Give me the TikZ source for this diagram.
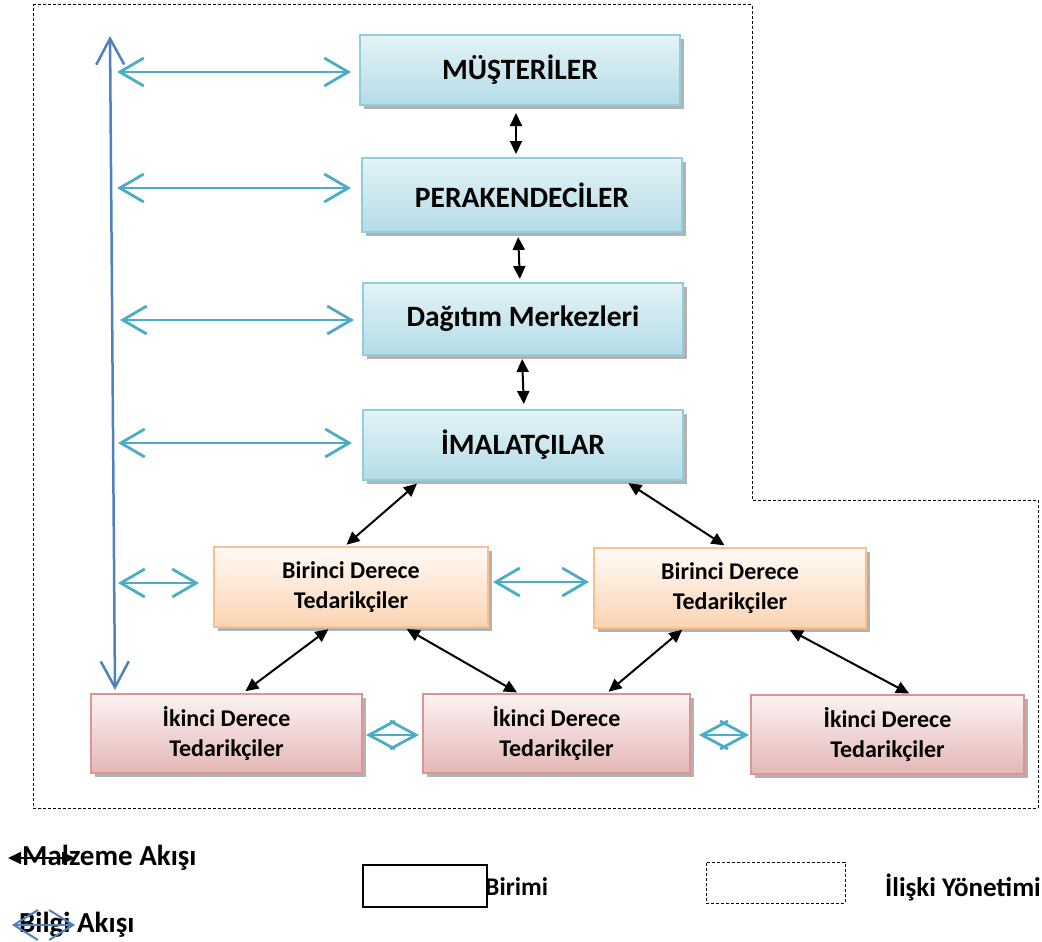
\documentclass[tikz,border=0pt]{standalone}
\usepackage{fontspec}
\setmainfont{Carlito}
\usetikzlibrary{arrows.meta,shadows,calc}
\definecolor{cyanA}{HTML}{4BACC6}
\definecolor{blueA}{HTML}{4F81BD}
\definecolor{bTop}{HTML}{E4F3F7}
\definecolor{bBot}{HTML}{B4DCE7}
\definecolor{bBrd}{HTML}{92CDDC}
\definecolor{oTop}{HTML}{FFFBF7}
\definecolor{oBot}{HTML}{FBD3B2}
\definecolor{oBrd}{HTML}{FAC08F}
\definecolor{pTop}{HTML}{FCF3F3}
\definecolor{pBot}{HTML}{E4B7B6}
\definecolor{pBrd}{HTML}{D99694}
\tikzset{
  box/.style={line width=2pt, align=center, font=\bfseries, text=black,
    general shadow={shadow xshift=4pt, shadow yshift=-4pt, fill=gray!60}},
  bluebox/.style={box, draw=bBrd, top color=bTop, bottom color=bBot, font=\fontsize{29.5}{33}\selectfont\bfseries},
  orbox/.style={box, draw=oBrd, top color=oTop, bottom color=oBot, font=\fontsize{24}{30}\selectfont\bfseries},
  pkbox/.style={box, draw=pBrd, top color=pTop, bottom color=pBot, font=\fontsize{24}{30}\selectfont\bfseries},
  blk/.style={line width=2pt, {Triangle[length=13pt,width=12pt]}-{Triangle[length=13pt,width=12pt]}},
  info/.style={draw=cyanA, line width=2.8pt, {Straight Barb[length=24pt,width=28pt]}-{Straight Barb[length=24pt,width=28pt]}},
  dia/.style={draw=cyanA, line width=2.8pt, {Straight Barb[length=26pt,width=28pt]}-{Straight Barb[length=26pt,width=28pt]}},
  leg/.style={font=\fontsize{29}{32}\selectfont\bfseries, inner sep=0pt},
}
\begin{document}
\begin{tikzpicture}[x=1pt,y=-1pt]
\useasboundingbox (0,0) rectangle (1042,942);
% relationship management outline
\draw[line width=1pt, dash pattern=on 3pt off 2pt] (33,5) -- (752,5) -- (752,500) -- (1038,500) -- (1038,808) -- (33,808) -- cycle;

% boxes
\node[bluebox, minimum width=320pt, minimum height=70pt] (m) at (520,70) {MÜŞTERİLER};
\node[bluebox, minimum width=320pt, minimum height=74pt] (p) at (522,195) {PERAKENDECİLER};
\node[bluebox, minimum width=320pt, minimum height=72pt] (d) at (523,319) {Dağıtım Merkezleri};
\node[bluebox, minimum width=320pt, minimum height=70pt] (i) at (523,445) {İMALATÇILAR};
\node[orbox, minimum width=274pt, minimum height=80pt] (b1) at (351,587) {Birinci Derece\\Tedarikçiler};
\node[orbox, minimum width=272pt, minimum height=80pt] (b2) at (730,588) {Birinci Derece\\Tedarikçiler};
\node[pkbox, minimum width=271pt, minimum height=79pt] (k1) at (226.5,733.5) {İkinci Derece\\Tedarikçiler};
\node[pkbox, minimum width=267pt, minimum height=79pt] (k2) at (556.5,733.5) {İkinci Derece\\Tedarikçiler};
\node[pkbox, minimum width=273pt, minimum height=79pt] (k3) at (887.5,734.5) {İkinci Derece\\Tedarikçiler};

% material flow (black)
\draw[blk, shorten <=7pt, shorten >=3pt] ([xshift=-4pt]m.south) -- ([xshift=-6pt]p.north);
\draw[blk, shorten <=4pt, shorten >=3pt] ([xshift=-4pt]p.south) -- ([xshift=-3pt]d.north);
\draw[blk, shorten <=3pt, shorten >=5pt] ([xshift=-1pt]d.south) -- ([xshift=1pt]i.north);
\draw[blk, shorten <=4pt, shorten >=2pt] ([xshift=-103pt]i.south) -- ([xshift=-6pt]b1.north);
\draw[blk, shorten <=4pt, shorten >=3pt] ([xshift=102pt]i.south) -- ([xshift=-3pt]b2.north);
\draw[blk, shorten <=2pt, shorten >=3pt] ([xshift=-21pt]b1.south) -- ([xshift=16.5pt]k1.north);
\draw[blk, shorten <=2pt, shorten >=1pt] ([xshift=54pt]b1.south) -- ([xshift=-38.5pt]k2.north);
\draw[blk, shorten <=1pt, shorten >=2pt] ([xshift=-47pt]b2.south) -- ([xshift=50.5pt]k2.north);
\draw[blk, shorten <=2pt, shorten >=1pt] ([xshift=58pt]b2.south) -- ([xshift=22.5pt]k3.north);

% information flow
\coordinate (V1) at (110,36);
\coordinate (V2) at (115,690);
\draw[draw=blueA, line width=2.5pt, {Straight Barb[length=26pt,width=28pt]}-{Straight Barb[length=26pt,width=28pt]}] (V1) -- (V2);
\coordinate (L1) at (117,72);
\coordinate (L2) at (117,188);
\coordinate (L3) at (120,320);
\coordinate (L4) at (118,443);
\coordinate (L5) at (118,583);
\draw[info, shorten >=8pt] (L1) -- (L1 -| m.west);
\draw[info, shorten >=10pt] (L2) -- (L2 -| p.west);
\draw[info, shorten >=8pt] (L3) -- (L3 -| d.west);
\draw[info, shorten >=10pt] (L4) -- (L4 -| i.west);
\draw[info, shorten >=14pt] (L5) -- (L5 -| b1.west);
\draw[info, shorten <=4pt, shorten >=4pt] ([yshift=5pt]b1.east) -- ([yshift=6pt]b2.west);
\draw[dia, shorten <=3pt, shorten >=3pt] ([yshift=-1.5pt]k1.east) -- ([yshift=-1.5pt]k2.west);
\draw[dia, shorten <=8pt, shorten >=1pt] ([yshift=-1.5pt]k2.east) -- ([yshift=-0.5pt]k3.west);

% legend
\node[leg, anchor=west] (lm) at (22,858) {Malzeme Akışı};
\coordinate (M1) at (8,858);
\coordinate (M2) at (75,858);
\draw[line width=1.8pt, {Triangle[length=13pt,width=12pt]}-{Triangle[length=13pt,width=12pt]}] (M1) -- (M2);
\node[leg, anchor=west] (lb) at (19,925) {Bilgi Akışı};
\coordinate (B1) at (12,925);
\coordinate (B2) at (75,925);
\draw[draw=blueA, line width=2pt, {Straight Barb[length=24pt,width=30pt]}-{Straight Barb[length=24pt,width=30pt]}] (B1) -- (B2);
\node[draw=black, line width=1.5pt, minimum width=124pt, minimum height=42pt, inner sep=0pt] (unit) at (425,886) {};
\node[leg, anchor=west, font=\fontsize{25.5}{28}\selectfont\bfseries] (ub) at (485,887) {Birimi};
\node[draw=black, line width=1pt, dash pattern=on 3pt off 2pt, minimum width=139pt, minimum height=41pt, inner sep=0pt] (rel) at (775.5,882.5) {};
\node[leg, anchor=west, font=\fontsize{27}{30}\selectfont\bfseries] (rb) at (885,887) {İlişki Yönetimi};
\end{tikzpicture}
\end{document}
